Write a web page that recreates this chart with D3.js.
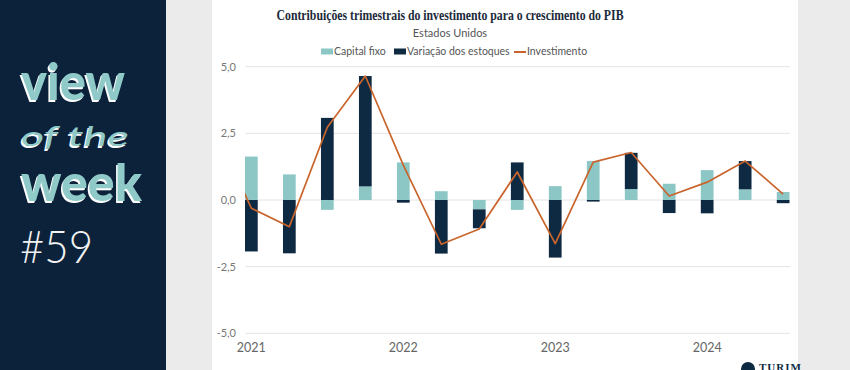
<!DOCTYPE html>
<html>
<head>
<meta charset="utf-8">
<script src="https://cdn.jsdelivr.net/npm/d3@7"></script>
<style>
    body { margin: 0; background: #ebebeb; }
    svg { display: block; }
</style>
</head>
<body>
<script>
// =======================DATA================================
const quarters = ['2021T1', '2021T2', '2021T3', '2021T4', '2022T1', '2022T2', '2022T3', '2022T4',
    '2023T1', '2023T2', '2023T3', '2023T4', '2024T1', '2024T2', '2024T3']
const capitalFixo = [1.63, 0.96, -0.37, 0.51, 1.41, 0.33, -0.35, -0.37, 0.52, 1.46, 0.41, 0.61, 1.12, 0.40, 0.30]
const variacaoEstoques = [-1.93, -2.00, 3.08, 4.14, -0.10, -2.01, -0.71, 1.41, -2.16, -0.06, 1.36, -0.49, -0.50, 1.06, -0.12]
const investimento = [-0.31, -1.00, 2.73, 4.65, 1.31, -1.66, -1.09, 1.05, -1.64, 1.42, 1.78, 0.15, 0.67, 1.46, 0.22]
// previous quarter (2020T4), only its tail shows at the left edge
const investimentoAnterior = 2.8
const yTicks = [-5, -2.5, 0, 2.5, 5]
const yearLabels = [['2021T1', '2021'], ['2022T1', '2022'], ['2023T1', '2023'], ['2024T1', '2024']]
const seriesNames = ['Capital fixo', 'Variação dos estoques', 'Investimento']

const colors = {
    capital: '#8cc7c6',
    estoques: '#0e2a42',
    linha: '#c9652c'
}

const width = 850,
    height = 370

const svg = d3.select('body').append('svg')
    .attr('width', width)
    .attr('height', height)

// =======================BACKGROUND / SIDE PANEL=======================
svg.append('rect').attr('width', width).attr('height', height).attr('fill', '#ebebeb')
svg.append('rect').attr('width', 166).attr('height', height).attr('fill', '#0b223a')
svg.append('rect').attr('x', 212).attr('width', 586).attr('height', height).attr('fill', '#ffffff')

const side = svg.append('g').attr('class', 'side')

function sideText(txt, x, y, opts) {
    side.append('text')
        .attr('x', x - 1.5).attr('y', y + 1.5)
        .attr('font-family', opts.font)
        .attr('font-size', opts.size)
        .attr('font-weight', opts.weight)
        .attr('font-style', opts.style || 'normal')
        .attr('textLength', opts.len)
        .attr('lengthAdjust', 'spacingAndGlyphs')
        .attr('fill', '#ffffff')
        .text(txt)
    side.append('text')
        .attr('x', x).attr('y', y)
        .attr('font-family', opts.font)
        .attr('font-size', opts.size)
        .attr('font-weight', opts.weight)
        .attr('font-style', opts.style || 'normal')
        .attr('textLength', opts.len)
        .attr('lengthAdjust', 'spacingAndGlyphs')
        .attr('fill', '#8fcac9')
        .text(txt)
}

sideText('view', 21, 100, { font: 'Lato', size: 52, weight: 900, len: 104 })
sideText('of the', 21, 146, { font: 'Lato', size: 27, weight: 400, style: 'italic', len: 108 })
sideText('week', 21, 201, { font: 'Lato', size: 52, weight: 900, len: 121 })

side.append('text')
    .attr('x', 20).attr('y', 263)
    .attr('font-family', 'Lato')
    .attr('font-size', 45)
    .attr('font-weight', 300)
    .attr('textLength', 73)
    .attr('lengthAdjust', 'spacingAndGlyphs')
    .attr('fill', '#f2f2f2')
    .text('#59')

// =======================TITLES / LEGEND=======================
svg.append('text')
    .attr('x', 450).attr('y', 20)
    .attr('text-anchor', 'middle')
    .attr('font-family', 'Liberation Serif')
    .attr('font-weight', 'bold')
    .attr('font-size', 14.5)
    .attr('textLength', 347)
    .attr('lengthAdjust', 'spacingAndGlyphs')
    .attr('fill', '#1b2a3a')
    .text('Contribuições trimestrais do investimento para o crescimento do PIB')

svg.append('text')
    .attr('x', 450).attr('y', 36.5)
    .attr('text-anchor', 'middle')
    .attr('font-family', 'Lato')
    .attr('font-size', 11)
    .attr('fill', '#555')
    .text('Estados Unidos')

const legend = svg.append('g').attr('class', 'legend')
const legendX = [321, 394, 514]
const legendColors = [colors.capital, colors.estoques, colors.linha]

legend.selectAll('.swatch')
    .data(seriesNames)
    .enter()
    .append('rect')
    .attr('class', 'swatch')
    .attr('x', (d, i) => legendX[i])
    .attr('y', (d, i) => i < 2 ? 48.5 : 51)
    .attr('width', 12)
    .attr('height', (d, i) => i < 2 ? 6 : 2)
    .attr('fill', (d, i) => legendColors[i])

legend.selectAll('text')
    .data(seriesNames)
    .enter()
    .append('text')
    .attr('x', (d, i) => legendX[i] + 13)
    .attr('y', 55)
    .attr('font-family', 'Lato')
    .attr('font-size', 10.5)
    .attr('fill', '#555')
    .text(d => d)

// =======================CHART=======================
const x = d3.scaleBand()
    .domain(quarters)
    .range([245, 789.5])
    .paddingInner(0.665)
    .paddingOuter(0)

const y = d3.scaleLinear()
    .domain([-5, 5])
    .range([333.3, 66.7])

const chart = svg.append('g').attr('class', 'chart')

chart.append('g')
    .selectAll('line')
    .data(yTicks)
    .enter()
    .append('line')
    .attr('x1', 245)
    .attr('x2', 790)
    .attr('y1', d => y(d))
    .attr('y2', d => y(d))
    .attr('stroke', '#e4e4e4')
    .attr('stroke-width', 1)

chart.append('g')
    .selectAll('text')
    .data(yTicks)
    .enter()
    .append('text')
    .attr('x', 236)
    .attr('y', d => y(d) + 4)
    .attr('text-anchor', 'end')
    .attr('font-family', 'Lato')
    .attr('font-size', 11)
    .attr('fill', '#777')
    .text(d => d3.format('.1f')(d).replace('.', ',').replace('−', '-'))

chart.append('g')
    .selectAll('text')
    .data(yearLabels)
    .enter()
    .append('text')
    .attr('x', d => x(d[0]) + x.bandwidth() / 2)
    .attr('y', 351.5)
    .attr('text-anchor', 'middle')
    .attr('font-family', 'Lato')
    .attr('font-size', 12.5)
    .attr('fill', '#666')
    .text(d => d[1])

const table = quarters.map((q, i) => ({
    quarter: q,
    capital: capitalFixo[i],
    estoques: variacaoEstoques[i]
}))

const stackedData = d3.stack()
    .keys(['capital', 'estoques'])
    .offset(d3.stackOffsetDiverging)(table)

const barColor = d3.scaleOrdinal()
    .domain(['capital', 'estoques'])
    .range([colors.capital, colors.estoques])

chart.append('g')
    .selectAll('g')
    .data(stackedData)
    .enter().append('g')
    .attr('fill', d => barColor(d.key))
    .selectAll('rect')
    .data(d => d)
    .enter().append('rect')
    .attr('x', d => x(d.data.quarter))
    .attr('y', d => y(Math.max(d[0], d[1])))
    .attr('width', x.bandwidth())
    .attr('height', d => Math.abs(y(d[0]) - y(d[1])))

// line, clipped to the plot so only the tail of the previous quarter shows
svg.append('clipPath')
    .attr('id', 'plotClip')
    .append('rect')
    .attr('x', 245).attr('y', 0)
    .attr('width', 545).attr('height', height)

const centre = q => x(q) + x.bandwidth() / 2
const linePoints = [[centre(quarters[0]) - x.step(), investimentoAnterior]]
    .concat(quarters.map((q, i) => [centre(q), investimento[i]]))

chart.append('path')
    .datum(linePoints)
    .attr('clip-path', 'url(#plotClip)')
    .attr('fill', 'none')
    .attr('stroke', colors.linha)
    .attr('stroke-width', 1.7)
    .attr('stroke-linejoin', 'round')
    .attr('d', d3.line().x(d => d[0]).y(d => y(d[1])))

// =======================LOGO=======================
const logo = svg.append('g').attr('class', 'logo')
logo.append('circle').attr('cx', 748).attr('cy', 369).attr('r', 7).attr('fill', '#0e2a42')
logo.append('text')
    .attr('x', 759).attr('y', 371)
    .attr('font-family', 'Liberation Serif')
    .attr('font-weight', 'bold')
    .attr('font-size', 11)
    .attr('letter-spacing', 1)
    .attr('fill', '#0e2a42')
    .text('TURIM')
</script>
</body>
</html>
